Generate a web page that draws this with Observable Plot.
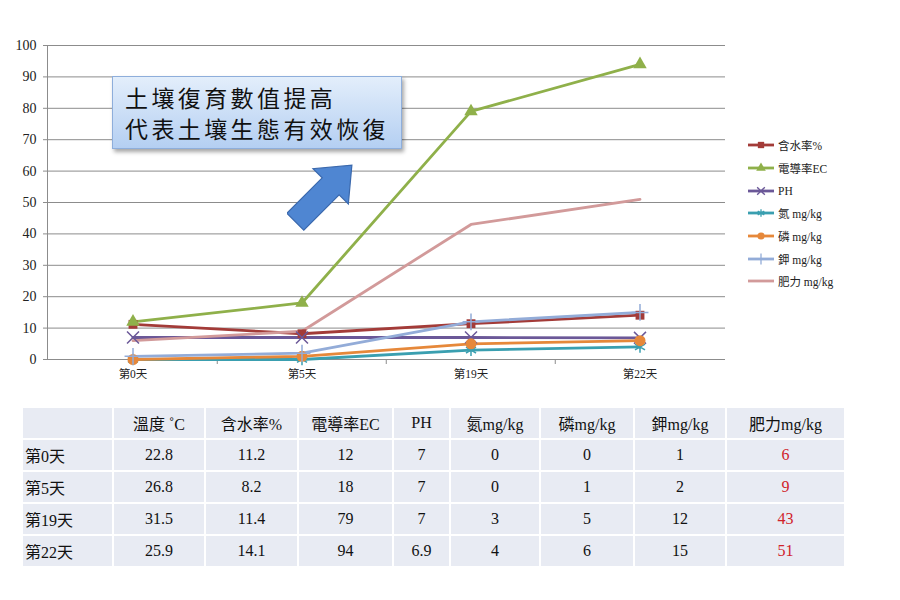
<!DOCTYPE html>
<html>
<head>
<meta charset="utf-8">
<script src="https://cdn.jsdelivr.net/npm/d3@7"></script>
<script src="https://cdn.jsdelivr.net/npm/@observablehq/plot@0.6"></script>
<style>
  html, body { margin: 0; padding: 0; background: #fff; }
  #wrap { position: relative; width: 900px; height: 600px; overflow: hidden; font-family: "Liberation Serif", "Noto Sans CJK TC", serif; }
  #chart { position: absolute; left: 0; top: 0; }
  #legend { position: absolute; left: 747px; top: 134px; font-size: 11.5px; color: #222; }
  #legend .item { height: 22.7px; display: flex; align-items: center; white-space: nowrap; }
  #legend svg { margin-right: 3px; }
  #callout { position: absolute; left: 112px; top: 76px; width: 290px; height: 73px; box-sizing: border-box;
    background: linear-gradient(#e3eefb, #b4cff2); border: 1px solid #8eaedb; box-shadow: 2px 3px 4px rgba(0,0,0,0.35);
    font-family: "Noto Sans CJK TC", serif; font-size: 23px; line-height: 31px; letter-spacing: 3.4px; color: #111; padding: 5px 0 0 12px; }
  #arrow { position: absolute; left: 287px; top: 152px; }
  #table { position: absolute; left: 23px; top: 408px; border-collapse: collapse; table-layout: fixed; font-size: 16px; color: #111; }
  #table td { background: #e8ebf3; border-right: 2px solid #fff; border-bottom: 2px solid #fff; height: 30px; padding: 0; text-align: center; white-space: nowrap; }
  #table td.lab { text-align: left; padding-left: 2px; }
  #table td.red { color: #d0222a; }
</style>
</head>
<body>
<div id="wrap">
  <div id="chart"></div>
  <div id="callout">土壤復育數值提高<br>代表土壤生態有效恢復</div>
  <svg id="arrow" width="90" height="80"></svg>
  <div id="legend"></div>
  <table id="table"></table>
</div>
<script>
// ---- data ----
const days = ["第0天", "第5天", "第19天", "第22天"];
const temperature = [22.8, 26.8, 31.5, 25.9];
const moisture = [11.2, 8.2, 11.4, 14.1];
const conductivity = [12, 18, 79, 94];
const ph = [7, 7, 7, 6.9];
const nitrogen = [0, 0, 3, 4];
const phosphorus = [0, 1, 5, 6];
const potassium = [1, 2, 12, 15];
const fertility = [6, 9, 43, 51];
const seriesNames = ["含水率%", "電導率EC", "PH", "氮 mg/kg", "磷 mg/kg", "鉀 mg/kg", "肥力 mg/kg"];
const seriesColors = ["#a33b38", "#8fb04a", "#6b5898", "#3a9fb0", "#e6883a", "#93acd8", "#d29a9a"];
const seriesSymbols = ["square", "triangle", "times", "asterisk", "circle", "plus", null];
const seriesValues = [moisture, conductivity, ph, nitrogen, phosphorus, potassium, fertility];
const tableHeaders = ["", "溫度 ˚C", "含水率%", "電導率EC", "PH", "氮mg/kg", "磷mg/kg", "鉀mg/kg", "肥力mg/kg"];
const tableColumns = [temperature, moisture, conductivity, ph, nitrogen, phosphorus, potassium, fertility];
const yTicks = d3.range(0, 101, 10);

const rows = seriesNames.flatMap((s, k) => days.map((d, i) => ({series: s, day: d, value: seriesValues[k][i], k})));
const W = 900, ML = 47, MR = 175;
const step = (W - ML - MR) / days.length;
const filled = new Set(["square", "triangle", "circle"]);

const marks = [
  Plot.gridY(yTicks, {stroke: "#8c8c8c", strokeOpacity: 1, strokeWidth: 1}),
  Plot.frame({anchor: "left", stroke: "#8c8c8c"}),
  Plot.ruleX(days.slice(1), {y1: 0, y2: 0, insetBottom: -5, dx: -step / 2, stroke: "#8c8c8c"}),
  Plot.axisY(yTicks, {tickSize: 4, tickPadding: 7, fontSize: "14px", fontFamily: "Liberation Serif", stroke: "#8c8c8c", fill: "#222"}),
  Plot.axisX({tickSize: 0, tickPadding: 10, fontSize: "11.5px", fontFamily: "Liberation Serif, Noto Sans CJK TC", fill: "#222"}),
  Plot.line(rows, {x: "day", y: "value", stroke: "series", z: "series", strokeWidth: 2.8})
];
seriesNames.forEach((s, k) => {
  const sym = seriesSymbols[k];
  if (!sym) return;
  const data = rows.filter(r => r.k === k);
  if (filled.has(sym)) {
    marks.push(Plot.dot(data, {x: "day", y: "value", symbol: () => sym, fill: seriesColors[k], r: sym === "circle" ? 5.5 : 5}));
  } else {
    marks.push(Plot.dot(data, {x: "day", y: "value", symbol: () => sym, stroke: seriesColors[k], strokeWidth: 1.5, r: 5.5}));
  }
});

const chart = Plot.plot({
  width: W, height: 390,
  marginLeft: ML, marginRight: MR, marginTop: 45, marginBottom: 31,
  style: {background: "transparent", fontSize: "14px", fontFamily: "Liberation Serif"},
  x: {type: "band", domain: days, padding: 0, label: null, axis: null},
  y: {domain: [0, 100], label: null, axis: null},
  color: {domain: seriesNames, range: seriesColors},
  symbol: {domain: ["square", "triangle", "times", "asterisk", "circle", "plus"], range: ["square", "triangle", "times", "asterisk", "circle", "plus"]},
  marks
});
document.getElementById("chart").appendChild(chart);

// ---- legend ----
const legend = d3.select("#legend");
seriesNames.forEach((s, k) => {
  const it = legend.append("div").attr("class", "item");
  const sv = it.append("svg").attr("width", 28).attr("height", 12);
  sv.append("line").attr("x1", 1).attr("x2", 27).attr("y1", 6).attr("y2", 6).attr("stroke", seriesColors[k]).attr("stroke-width", 2.8);
  const sym = seriesSymbols[k];
  if (sym) {
    const symType = {square: d3.symbolSquare, triangle: d3.symbolTriangle, times: d3.symbolTimes, asterisk: d3.symbolAsterisk, circle: d3.symbolCircle, plus: d3.symbolPlus}[sym];
    const p = sv.append("path").attr("transform", "translate(14,6)").attr("d", d3.symbol(symType, 40)());
    if (filled.has(sym)) p.attr("fill", seriesColors[k]); else p.attr("fill", "none").attr("stroke", seriesColors[k]).attr("stroke-width", 1.3);
  }
  it.append("span").text(s);
});

// ---- arrow ----
const ar = d3.select("#arrow");
const g = ar.append("g").attr("transform", "translate(38,40) rotate(-45)");
g.append("path")
  .attr("d", "M-42,-12 L8,-12 L8,-25 L38,0 L8,25 L8,12 L-42,12 Z")
  .attr("fill", "#4f86d2").attr("stroke", "#3b69ad").attr("stroke-width", 1.2);

// ---- table ----
const colW = [90, 92, 93, 95, 57, 90, 94, 92, 119];
const tbl = d3.select("#table");
const cg = tbl.append("colgroup");
colW.forEach(w => cg.append("col").style("width", w + "px"));
const hr = tbl.append("tr");
tableHeaders.forEach(h => hr.append("td").text(h));
days.forEach((d, i) => {
  const tr = tbl.append("tr");
  tr.append("td").attr("class", "lab").text(d);
  tableColumns.forEach((c, j) => tr.append("td").attr("class", j === tableColumns.length - 1 ? "red" : null).text(c[i]));
});
</script>
</body>
</html>
